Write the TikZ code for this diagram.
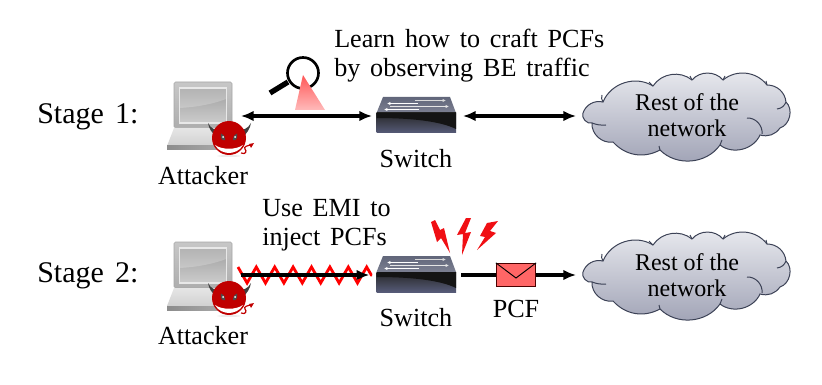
\documentclass[tikz,border=0pt]{standalone}
\usepackage{fontspec}
\setmainfont{Liberation Serif}
\newfontfamily\wideserif[WordSpace=1.5]{Liberation Serif}
\usetikzlibrary{arrows.meta,calc,decorations.pathmorphing}
\definecolor{devilred}{HTML}{C00000}
\definecolor{mailred}{HTML}{FF6666}
\definecolor{cloudedge}{HTML}{3C4256}
\definecolor{cloudtop}{HTML}{E9EAEF}
\definecolor{cloudbottom}{HTML}{9EA1B4}
\definecolor{switchtop}{HTML}{61667A}
\definecolor{switchmid}{HTML}{7C8092}
\definecolor{switchglow}{HTML}{565B78}
\tikzset{
  holder/.style={inner sep=0pt,outer sep=0pt,minimum height=1pt,minimum width=#1},
  label text/.style={font=\wideserif\fontsize{19.6}{22}\selectfont,inner sep=0pt,anchor=base},
  cloud text/.style={font=\fontsize{18}{22}\selectfont,inner sep=0pt,anchor=base},
  stage text/.style={font=\wideserif\fontsize{22.5}{26}\selectfont,inner sep=0pt,anchor=base west},
  link/.style={line width=2.3pt,-{Latex[length=9.5pt,width=8pt]}},
  both link/.style={line width=2.3pt,{Latex[length=9.5pt,width=8pt]}-{Latex[length=9.5pt,width=8pt]}},
  bolt/.style={fill={rgb,255:red,240;green,15;blue,20},draw=none},
  pics/laptop/.style={code={
    \shade[rounded corners=1.2pt,top color=black!22,bottom color=black!32,draw=black!35,line width=.4pt]
      (174,82) rectangle (232,128);
    \shade[top color=black!38,bottom color=black!20,draw=black!9,line width=1.2pt]
      (179.5,88) rectangle (226.5,123);
    \fill[white,opacity=.22] (180,89) -- (226,89) -- (226,99) .. controls (210,105) and (195,107) .. (180,108) -- cycle;
    \shade[top color=black!10,bottom color=black!18] (174,128) -- (232,128) -- (240,146) -- (167,146) -- cycle;
    \shade[left color=black!45,right color=black!30] (167,146) -- (240,146) -- (240,150) -- (167,150) -- cycle;
  }},
  pics/devil/.style={code={
    \fill[black!75] (208,123) .. controls (211,129) and (216,131) .. (220,129) -- (216,136) .. controls (212,133) and (209,129) .. (208,123) -- cycle;
    \fill[black!75] (251,123) .. controls (248,129) and (242,131) .. (238,129) -- (243,137) .. controls (247,133) and (250,129) .. (251,123) -- cycle;
    \draw[devilred,line width=.9pt] (241,153) .. controls (246,155) and (247,151) .. (245,149) .. controls (243,147) and (248,145) .. (252,145);
    \fill[devilred] (254,143) -- (249,144) -- (251,148) -- cycle;
    \fill[black!15,opacity=.5] (229,156) ellipse (12 and 1);
    \fill[devilred] (229,138) circle (17);
    \fill[black!70] (221,133.5) .. controls (223,134) and (225,136) .. (225,140) .. controls (222,141) and (220,138) .. (221,133.5) -- cycle;
    \fill[black!70] (237,133.5) .. controls (235,134) and (233,136) .. (233,140) .. controls (236,141) and (238,138) .. (237,133.5) -- cycle;
    \fill[white] (223,137) circle (1); \fill[white] (235,137) circle (1);
    \fill[white] (215,145) .. controls (222,150) and (236,150) .. (243,145) .. controls (240,151) and (233,153) .. (229,153) .. controls (225,153) and (218,151) .. (215,145) -- cycle;
  }},
  pics/switchbox/.style={code={
    \shade[top color=switchtop,bottom color=switchmid]
      (383,97) -- (450,97) -- (456,113) -- (376.5,113) -- cycle;
    \shade[top color=black!85,bottom color=switchglow] (376.5,113) rectangle (456,133);
    \fill[black!92] (376.5,113) -- (456,113) -- (456,129) .. controls (440,121) and (410,118) .. (376.5,118) -- cycle;
    \draw[white!85!black,line width=.6pt,-{Latex[length=2.5pt,width=2.5pt]}] (415,100.5) -- (446,100.5);
    \draw[white,line width=.6pt,-{Latex[length=2.5pt,width=2.5pt]}] (418,103.5) -- (387,103.5);
    \draw[white!90!black,line width=.6pt,-{Latex[length=2.5pt,width=2.5pt]}] (390,106.5) -- (449,106.5);
    \draw[white,line width=.6pt,-{Latex[length=2.5pt,width=2.5pt]}] (419,109.5) -- (384,109.5);
  }},
  pics/cloudshape/.style={code={
    \def\cloudoutline{(583,113) to[bend left=42] (603,102) to[bend left=50] (653,86) to[bend left=48] (692,80)
      to[bend left=50] (723,80) to[bend left=46] (767,85) to[bend left=42] (786,102) to[bend left=60] (780,128)
      to[bend left=35] (760,135) to[bend left=52] (720,145) to[bend left=50] (660,150) to[bend left=38] (613,142)
      to[bend left=52] (592,123) to[bend left=65] (583,113) -- cycle}
    \shade[top color=cloudtop,bottom color=cloudbottom,draw=cloudedge,line width=.75pt]
      \cloudoutline;
    \draw[cloudedge,line width=.75pt]
      (592,123) to[bend right=12] (606,125)
      (603,102) to[bend left=25] (602,95)
      (653,86) to[bend left=15] (649,82)
      (692,80) to[bend left=15] (690,76)
      (723,80) to[bend right=15] (725,76)
      (767,85) to[bend right=15] (766,81)
      (786,102) to[bend left=30] (777,109)
      (747,118) to[bend left=50] (762,134)
      (720,145) to[bend right=15] (722,140)
      (660,150) to[bend right=15] (659,146);
  }}
}
\begin{document}
\begin{tikzpicture}[x=0.75pt,y=-0.75pt]
  \useasboundingbox (0,0) rectangle (822,385);

  % Devices of the first stage
  \pic at (0,0) {laptop};
  \pic at (0,0) {devil};
  \pic at (0,0) {switchbox};
  \pic at (0,0) {cloudshape};
  \node[holder=54pt] (attackerA) at (205,116) {};
  \node[holder=68.25pt] (switchA) at (417.5,116) {};
  \node[holder=156pt] (cloudA) at (680,116) {};

  % Eavesdropping magnifier
  \draw[line width=2pt,black] (303,73) circle (15.5);
  \draw[line width=4pt,black] (270,93) -- (288,82);
  \shade[top color=mailred!85!red,bottom color=mailred!45!white] (303,75) -- (325,110) -- (295,110) -- cycle;

  \draw[both link] (attackerA.east) -- (switchA.west);
  \draw[both link] (switchA.east) -- (cloudA.west);

  \node[stage text] (stageA) at (37,124) {Stage 1:};
  \node[label text] (attackerAtext) at (203,185) {Attacker};
  \node[label text] (switchAtext) at (416,167) {Switch};
  \node[label text,anchor=base west] (learn) at (334,48) {Learn how to craft PCFs};
  \node[label text,anchor=base west] (observe) at (334,77) {by observing BE traffic};
  \node[cloud text] (restA) at (687,111) {Rest of the};
  \node[cloud text] (netA) at (687,137) {network};

  % Devices of the second stage
  \pic at (0,160) {laptop};
  \pic at (0,160) {devil};
  \pic at (0,159) {switchbox};
  \pic at (0,159) {cloudshape};
  \node[holder=54pt] (attackerB) at (205,275) {};
  \node[holder=68.25pt] (switchB) at (417.5,275) {};
  \node[holder=156pt] (cloudB) at (680,275) {};

  % Injected interference
  \draw[red,line width=2.1pt] ($(attackerB.east)+(-3,-8)$) -- ($(attackerB.east)+(1.5,0)$);
  \draw[red,line width=2.1pt,decorate,decoration={zigzag,mirror,segment length=13.8pt,amplitude=6pt}]
    ($(attackerB.east)+(1.5,0)$) -- (switchB.west);
  \draw[link,shorten >=2pt] (attackerB.east) -- (switchB.west);

  % Sparks above the switch
  \fill[bolt] (431,222) -- (435,220) -- (440,230) -- (444,228) -- (450,253) -- (441,238) -- (437,242) -- cycle;
  \fill[bolt] (466,218) -- (457,235) -- (463,234) -- (462,255) -- (471,232) -- (465,233) -- (471,218) -- cycle;
  \fill[bolt] (487,223) -- (498,221) -- (490,231) -- (496,233) -- (477,250) -- (485,237) -- (480,236) -- cycle;

  % Forged frame on its way out
  \node[draw=black!70!red,fill=mailred,line width=.7pt,minimum width=29.5pt,minimum height=17.5pt,inner sep=0pt] (mail) at (516,275) {};
  \draw[line width=2.3pt,shorten <=-1.5pt] (switchB.east) -- (mail.west);
  \draw[link] (mail.east) -- (cloudB.west);
  \draw[black,line width=.7pt] (mail.north west) -- ($(mail.center)+(0,3)$) -- (mail.north east);

  \node[stage text] (stageB) at (37,282) {Stage 2:};
  \node[label text] (attackerBtext) at (203,344) {Attacker};
  \node[label text] (switchBtext) at (416,326) {Switch};
  \node[label text] (pcf) at (516,317) {PCF};
  \node[label text,anchor=base west] (useemi) at (262,216) {Use EMI to};
  \node[label text,anchor=base west] (inject) at (262,245) {inject PCFs};
  \node[cloud text] (restB) at (687,270) {Rest of the};
  \node[cloud text] (netB) at (687,296) {network};
\end{tikzpicture}
\end{document}
